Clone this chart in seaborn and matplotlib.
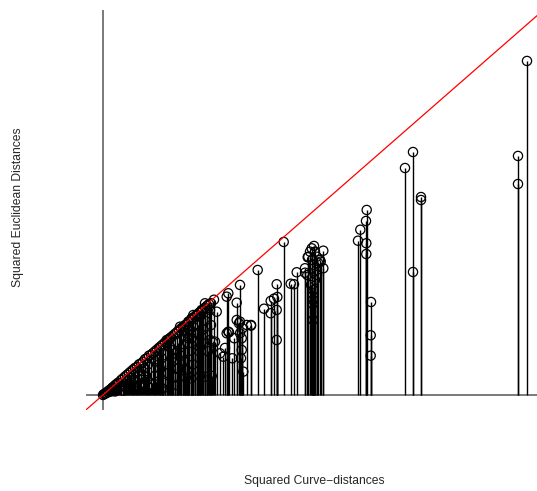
import matplotlib
matplotlib.use("Agg")
import matplotlib.pyplot as plt
import seaborn as sns
import pandas as pd

# Squared curve-distances (x) and squared Euclidean distances (y)
x_near = [0.00, 0.01, 0.02, 0.03, 0.04, 0.05, 0.06, 0.07, 0.08, 0.09, 0.10, 0.11, 0.12, 0.13, 0.14,
          0.15, 0.16, 0.17, 0.18, 0.20, 0.21, 0.22, 0.23, 0.24, 0.25, 0.26, 0.27, 0.28, 0.29, 0.30,
          0.31, 0.32, 0.33, 0.34, 0.35, 0.36, 0.37, 0.38, 0.40, 0.41, 0.42, 0.43, 0.44, 0.45, 0.46,
          0.48, 0.49, 0.50, 0.51, 0.52, 0.54, 0.55, 0.56, 0.58, 0.60, 0.62, 0.64, 0.66, 0.68, 0.70,
          0.72, 0.74, 0.76, 0.78, 0.80, 0.82, 0.84, 0.86, 0.88, 0.90, 0.92, 0.94, 0.96, 0.98, 1.00,
          1.02, 1.04, 1.06, 1.08, 1.11]
y_near = [0.00, 0.01, 0.015, 0.02, 0.035, 0.03, 0.05, 0.06, 0.04, 0.08, 0.09, 0.07, 0.11, 0.12, 0.06,
          0.14, 0.13, 0.09, 0.17, 0.19, 0.12, 0.21, 0.17, 0.23, 0.10, 0.25, 0.20, 0.27, 0.14, 0.29,
          0.24, 0.31, 0.08, 0.32, 0.27, 0.35, 0.18, 0.36, 0.38, 0.30, 0.41, 0.22, 0.42, 0.35, 0.45,
          0.46, 0.12, 0.48, 0.40, 0.50, 0.52, 0.44, 0.54, 0.56, 0.58, 0.60, 0.61, 0.64, 0.66, 0.68,
          0.70, 0.72, 0.74, 0.76, 0.78, 0.80, 0.81, 0.84, 0.86, 0.88, 0.90, 0.92, 0.94, 0.96, 0.97,
          1.00, 1.02, 1.04, 1.05, 1.09]

x_low = [0.12, 0.20, 0.22, 0.30, 0.34, 0.39, 0.44, 0.47, 0.52, 0.53, 0.57, 0.60, 0.62, 0.65, 0.67,
         0.69, 0.72, 0.75, 0.78, 0.81, 0.83, 0.85, 0.88, 0.90, 0.92, 0.95, 0.97, 1.00, 1.02, 1.05,
         1.08, 1.10]
y_low = [0.04, 0.05, 0.10, 0.06, 0.15, 0.10, 0.17, 0.08, 0.22, 0.15, 0.30, 0.07, 0.35, 0.25, 0.55,
         0.42, 0.20, 0.60, 0.45, 0.58, 0.20, 0.50, 0.70, 0.35, 0.62, 0.80, 0.55, 0.75, 0.85, 0.50,
         0.80, 0.60]

x_mid = [1.020, 1.037, 0.987, 1.070, 0.903, 0.970, 0.853, 0.803, 0.903, 0.770, 0.937, 0.853, 1.037,
         1.070, 0.670, 0.637, 0.703, 0.570, 0.587, 0.720, 0.953, 1.170, 1.203, 0.803, 0.737, 0.880,
         0.970, 1.020, 1.087, 0.603, 0.587, 0.737, 1.137, 0.887, 0.820, 0.837, 0.887, 1.120, 1.370,
         0.820, 0.753, 0.837, 0.653, 0.687, 0.937, 1.253]
y_mid = [1.049, 0.992, 0.973, 0.973, 0.915, 0.896, 0.839, 0.744, 0.781, 0.781, 0.706, 0.649, 0.686,
         0.629, 0.649, 0.629, 0.515, 0.534, 0.420, 0.477, 0.507, 0.477, 0.438, 0.392, 0.305, 0.191,
         0.217, 0.209, 0.217, 0.141, 0.077, 0.114, 0.953, 0.878, 0.781, 0.706, 0.649, 0.610, 0.839,
         0.381, 0.305, 0.286, 0.629, 0.515, 0.915, 0.724]

x_grp = [1.370, 1.253, 1.337, 1.337, 1.360, 1.260, 1.393, 1.437, 1.480, 1.370, 1.387, 1.313, 1.387,
         1.293, 1.380, 1.403, 1.220, 1.237, 1.237, 1.737, 1.743, 1.710, 1.677, 1.610, 1.677, 1.737,
         1.737, 1.480, 1.547, 1.807]
y_grp = [1.259, 1.164, 1.056, 0.858, 0.820, 0.717, 0.763, 0.801, 0.801, 0.706, 0.649, 0.649, 0.515,
         0.420, 0.420, 0.267, 0.538, 0.706, 1.125, 1.267, 1.121, 1.102, 1.076, 0.987, 0.935, 0.973,
         0.629, 0.793, 1.430, 1.751]

x_clu = [2.120, 2.110, 2.087, 2.070, 2.053, 2.137, 2.203, 2.170, 2.153, 2.203, 2.177, 2.137, 2.120,
         2.103, 2.097, 2.047, 2.020, 2.020, 2.043, 1.937, 1.910, 1.877, 2.090, 2.110, 2.140, 2.080,
         2.100, 2.100]
y_clu = [1.640, 1.705, 1.678, 1.640, 1.582, 1.582, 1.651, 1.545, 1.507, 1.450, 1.525, 1.430, 1.316,
         1.201, 1.041, 1.576, 1.450, 1.399, 1.373, 1.404, 1.267, 1.273, 1.545, 1.487, 1.373, 1.259,
         1.087, 0.858]

x_far = [2.637, 2.630, 2.573, 2.550, 2.633, 2.633, 2.680, 2.677, 2.677,
         3.020, 3.100, 3.100, 3.180, 3.180, 4.150, 4.150, 4.240]
y_far = [2.117, 1.991, 1.891, 1.765, 1.736, 1.613, 1.064, 0.683, 0.450,
         2.597, 2.780, 1.407, 2.265, 2.231, 2.735, 2.414, 3.822]

x_all = x_near + x_low + x_mid + x_grp + x_clu + x_far
y_all = y_near + y_low + y_mid + y_grp + y_clu + y_far
df = pd.DataFrame({"curve": x_all, "eucl": y_all})

sns.set_style("white")
plt.rcParams["font.family"] = ["Liberation Sans", "DejaVu Sans"]

fig = plt.figure(figsize=(5.37, 4.91), dpi=100)
ax = fig.add_axes([86 / 537, 1 - 410 / 491, (545 - 86) / 537, 400 / 491])
ax.set_xlim(-0.17, 4.42)
ax.set_ylim(-0.172, 4.405)

ax.axhline(0, color="#7a7a7a", lw=1.4, zorder=1)
ax.axvline(0, color="#7a7a7a", lw=1.4, zorder=1)
ax.vlines(df["curve"], 0, df["eucl"], color="black", lw=1.0, zorder=2)
sns.scatterplot(data=df, x="curve", y="eucl", ax=ax, marker="o", s=44,
                facecolor="none", edgecolor="black", linewidth=0.9, zorder=3)
ax.axline((0, 0), slope=1, color="red", lw=0.9, zorder=4)

for s in ax.spines.values():
    s.set_visible(False)
ax.set_xticks([])
ax.set_yticks([])
ax.set_xlabel("")
ax.set_ylabel("")

fig.text(314 / 537, 1 - 481 / 491, "Squared Curve\u2212distances", ha="center", va="center",
         fontsize=8.7)
fig.text(18 / 537, 1 - 207 / 491, "Squared Euclidean Distances", ha="center", va="center",
         rotation=90, fontsize=8.7)

fig.savefig("out.png", dpi=100)
